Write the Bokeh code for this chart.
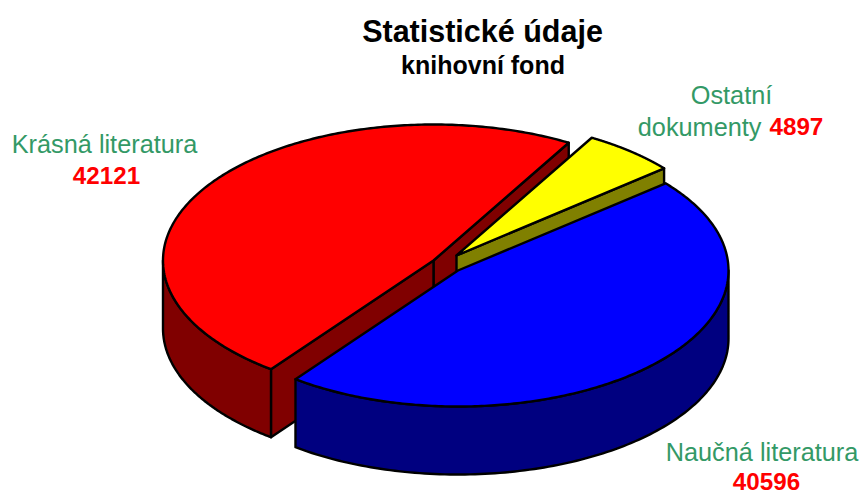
import numpy as np
from bokeh.plotting import figure
from bokeh.models import Range1d
from bokeh.core.properties import value
from bokeh.embed import file_html
from bokeh.resources import INLINE

# data
categories = ["Krásná literatura", "Naučná literatura", "Ostatní dokumenty"]
values = [42121, 40596, 4897]
title = "Statistické údaje"
subtitle = "knihovní fond"

# style / layout
top_colors = ["#FF0000", "#0000FF", "#FFFF00"]
wall_colors = ["#800000", "#000080", "#808000"]
apexes = [(433, 260), (457.5, 270), (456, 255)]
draw_order = [0, 2, 1]
START_DEG = 60.0
RX, RY, DEPTH = 270.5, 136.0, 68.0
GREEN = "#339966"

p = figure(width=862, height=495, output_backend="svg", toolbar_location=None,
           x_range=Range1d(0, 862), y_range=Range1d(495, 0),
           min_border=0, outline_line_color=None, background_fill_color="white")
p.xaxis.visible = False
p.yaxis.visible = False
p.grid.visible = False

total = sum(values)
ang = START_DEG
spans = []
for v in values:
    spans.append((ang, ang + 360.0 * v / total))
    ang = spans[-1][1]


def pt(c, a):
    r = np.radians(a)
    return c[0] + RX * np.cos(r), c[1] - RY * np.sin(r)


def shape(xs, ys, color):
    p.patch(xs, ys, fill_color=color, line_color="black", line_width=2.4, line_join="round")


for i in draw_order:
    s, e = spans[i]
    c = apexes[i]
    top = top_colors[i]
    wall = wall_colors[i]
    # radial cut faces turned towards the viewer
    for a, vis in ((s, np.sin(np.radians(s - 90)) < 0), (e, np.sin(np.radians(e + 90)) < 0)):
        if vis:
            x1, y1 = pt(c, a)
            shape([c[0], x1, x1, c[0]], [c[1], y1, y1 + DEPTH, c[1] + DEPTH], wall)
    # outer wall: the parts of the slice's rim in the front half
    for k in (0, 1):
        lo = max(s, 180 + 360 * k)
        hi = min(e, 360 + 360 * k)
        if hi > lo:
            t = np.linspace(lo, hi, 120)
            xx, yy = pt(c, t)
            shape(np.r_[xx, xx[::-1]], np.r_[yy, yy[::-1] + DEPTH], wall)
    # top face
    t = np.linspace(s, e, 240)
    xx, yy = pt(c, t)
    shape(np.r_[c[0], xx], np.r_[c[1], yy], top)


def label(x, y, txt, color, size, bold=False, align="center"):
    p.text([x], [y], text=[txt], text_color=color, text_font=value("Liberation Sans"),
           text_font_size=f"{size}px", text_font_style="bold" if bold else "normal",
           text_align=align, text_baseline="middle")


label(482, 30, title, "black", 30.5, True)
label(482.5, 64, subtitle, "black", 25, True)
label(104, 143, categories[0], GREEN, 25.3)
label(106, 175, str(values[0]), "#FF0000", 24.2, True)
label(761.5, 451, categories[1], GREEN, 25.3)
label(766, 481, str(values[1]), "#FF0000", 24.2, True)
a, b = categories[2].split(" ")
label(731, 94, a, GREEN, 25.3)
label(761, 126, b, GREEN, 25.3, align="right")
label(769, 126, str(values[2]), "#FF0000", 24.2, True, align="left")

open("out.html", "w").write(file_html(p, INLINE))
